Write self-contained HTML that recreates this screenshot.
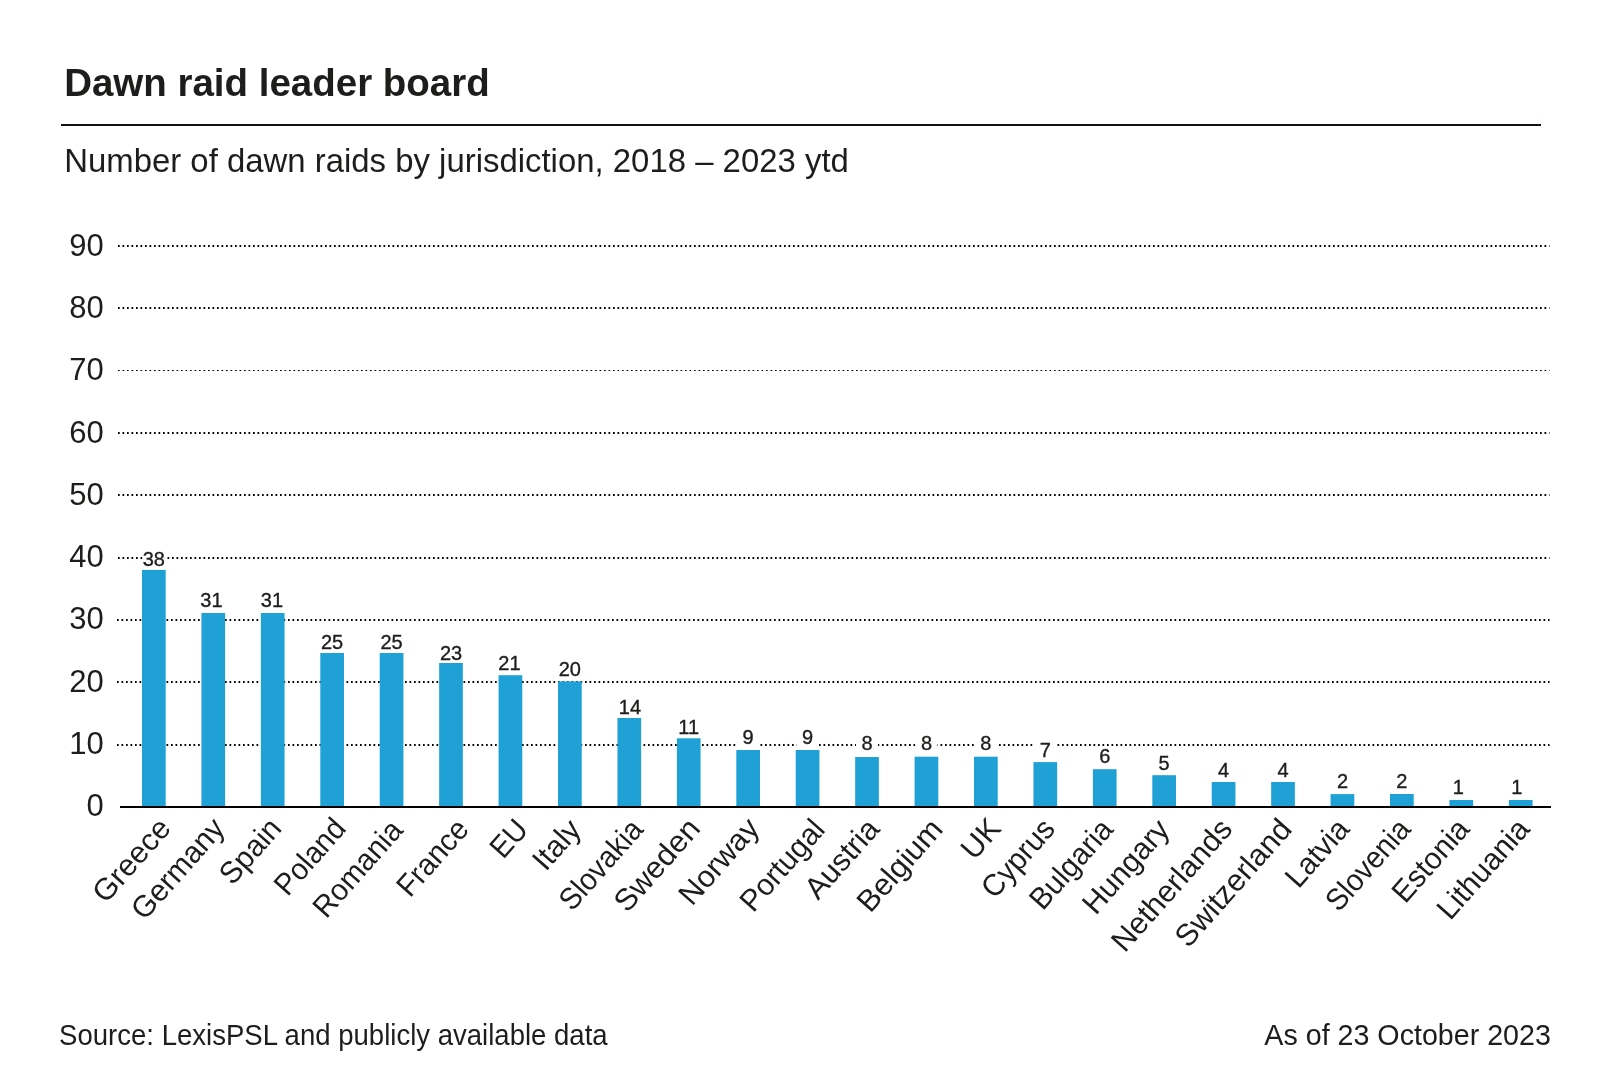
<!DOCTYPE html><html><head><meta charset="utf-8"><style>html,body{margin:0;padding:0;background:#fff;width:1600px;height:1081px;overflow:hidden}svg{display:block;will-change:transform}text{font-family:"Liberation Sans",sans-serif;fill:#1d1d1b}</style></head><body>
<svg width="1600" height="1081" viewBox="0 0 1600 1081">
<rect width="1600" height="1081" fill="#fff"/>
<text x="64.16" y="96" font-size="39.6" font-weight="bold" textLength="425.6" lengthAdjust="spacingAndGlyphs">Dawn raid leader board</text>
<rect x="61" y="124" width="1480" height="2" fill="#15110d"/>
<text x="64.17" y="172" font-size="33.6" textLength="784.7" lengthAdjust="spacingAndGlyphs">Number of dawn raids by jurisdiction, 2018 – 2023 ytd</text>
<line x1="117" y1="745.0" x2="1549.5" y2="745.0" stroke="#000" stroke-width="2" stroke-dasharray="1.7 2.8"/>
<line x1="117" y1="682.0" x2="1549.5" y2="682.0" stroke="#000" stroke-width="2" stroke-dasharray="1.7 2.8"/>
<line x1="117" y1="620.0" x2="1549.5" y2="620.0" stroke="#000" stroke-width="2" stroke-dasharray="1.7 2.8"/>
<line x1="118" y1="558.0" x2="1549.5" y2="558.0" stroke="#000" stroke-width="2" stroke-dasharray="1.7 2.8"/>
<line x1="118" y1="495.0" x2="1549.5" y2="495.0" stroke="#000" stroke-width="2" stroke-dasharray="1.7 2.8"/>
<line x1="118" y1="433.0" x2="1549.5" y2="433.0" stroke="#000" stroke-width="2" stroke-dasharray="1.7 2.8"/>
<line x1="118" y1="370.5" x2="1549.5" y2="370.5" stroke="#000" stroke-width="1" stroke-dasharray="1.7 2.8"/>
<line x1="118" y1="308.0" x2="1549.5" y2="308.0" stroke="#000" stroke-width="2" stroke-dasharray="1.7 2.8"/>
<line x1="118" y1="246.0" x2="1549.5" y2="246.0" stroke="#000" stroke-width="2" stroke-dasharray="1.7 2.8"/>
<text x="103.7" y="816.07" font-size="31" text-anchor="end">0</text>
<text x="103.7" y="753.84" font-size="31" text-anchor="end">10</text>
<text x="103.7" y="691.61" font-size="31" text-anchor="end">20</text>
<text x="103.7" y="629.38" font-size="31" text-anchor="end">30</text>
<text x="103.7" y="567.15" font-size="31" text-anchor="end">40</text>
<text x="103.7" y="504.92" font-size="31" text-anchor="end">50</text>
<text x="103.7" y="442.69" font-size="31" text-anchor="end">60</text>
<text x="103.7" y="380.46" font-size="31" text-anchor="end">70</text>
<text x="103.7" y="318.23" font-size="31" text-anchor="end">80</text>
<text x="103.7" y="256.00" font-size="31" text-anchor="end">90</text>
<rect x="142.00" y="569.90" width="23.70" height="237.10" fill="#1fa1d6"/>
<text transform="translate(172.35 829.20) rotate(-48.5)" x="0" y="0" font-size="30.5" text-anchor="end" textLength="100.55" lengthAdjust="spacingAndGlyphs">Greece</text>
<rect x="201.43" y="613.00" width="23.70" height="194.00" fill="#1fa1d6"/>
<text transform="translate(226.28 829.30) rotate(-48.5)" x="0" y="0" font-size="30.5" text-anchor="end" textLength="123.27" lengthAdjust="spacingAndGlyphs">Germany</text>
<rect x="260.86" y="613.00" width="23.70" height="194.00" fill="#1fa1d6"/>
<text transform="translate(283.01 829.40) rotate(-48.5)" x="0" y="0" font-size="30.5" text-anchor="end" textLength="76.07" lengthAdjust="spacingAndGlyphs">Spain</text>
<rect x="320.29" y="653.00" width="23.70" height="154.00" fill="#1fa1d6"/>
<text transform="translate(347.54 829.50) rotate(-48.5)" x="0" y="0" font-size="30.5" text-anchor="end" textLength="90.53" lengthAdjust="spacingAndGlyphs">Poland</text>
<rect x="379.72" y="653.00" width="23.70" height="154.00" fill="#1fa1d6"/>
<text transform="translate(404.22 831.25) rotate(-48.5)" x="0" y="0" font-size="30.5" text-anchor="end" textLength="117.73" lengthAdjust="spacingAndGlyphs">Romania</text>
<rect x="439.15" y="663.00" width="23.70" height="144.00" fill="#1fa1d6"/>
<text transform="translate(470.25 830.25) rotate(-48.5)" x="0" y="0" font-size="30.5" text-anchor="end" textLength="91.12" lengthAdjust="spacingAndGlyphs">France</text>
<rect x="498.58" y="675.20" width="23.70" height="131.80" fill="#1fa1d6"/>
<text transform="translate(529.53 830.50) rotate(-48.5)" x="0" y="0" font-size="30.5" text-anchor="end" textLength="39.50" lengthAdjust="spacingAndGlyphs">EU</text>
<rect x="558.01" y="681.40" width="23.70" height="125.60" fill="#1fa1d6"/>
<text transform="translate(582.46 830.70) rotate(-48.5)" x="0" y="0" font-size="30.5" text-anchor="end" textLength="55.48" lengthAdjust="spacingAndGlyphs">Italy</text>
<rect x="617.44" y="718.00" width="23.70" height="89.00" fill="#1fa1d6"/>
<text transform="translate(644.59 830.40) rotate(-48.5)" x="0" y="0" font-size="30.5" text-anchor="end" textLength="109.17" lengthAdjust="spacingAndGlyphs">Slovakia</text>
<rect x="676.87" y="738.30" width="23.70" height="68.70" fill="#1fa1d6"/>
<text transform="translate(701.67 829.65) rotate(-48.5)" x="0" y="0" font-size="30.5" text-anchor="end" textLength="112.44" lengthAdjust="spacingAndGlyphs">Sweden</text>
<rect x="736.30" y="750.00" width="23.70" height="57.00" fill="#1fa1d6"/>
<text transform="translate(760.82 829.18) rotate(-48.5)" x="0" y="0" font-size="30.5" text-anchor="end" textLength="103.91" lengthAdjust="spacingAndGlyphs">Norway</text>
<rect x="795.73" y="750.00" width="23.70" height="57.00" fill="#1fa1d6"/>
<text transform="translate(826.48 830.50) rotate(-48.5)" x="0" y="0" font-size="30.5" text-anchor="end" textLength="110.66" lengthAdjust="spacingAndGlyphs">Portugal</text>
<rect x="855.16" y="757.00" width="23.70" height="50.00" fill="#1fa1d6"/>
<text transform="translate(881.01 830.00) rotate(-48.5)" x="0" y="0" font-size="30.5" text-anchor="end" textLength="94.94" lengthAdjust="spacingAndGlyphs">Austria</text>
<rect x="914.59" y="756.70" width="23.70" height="50.30" fill="#1fa1d6"/>
<text transform="translate(944.29 830.25) rotate(-48.5)" x="0" y="0" font-size="30.5" text-anchor="end" textLength="111.82" lengthAdjust="spacingAndGlyphs">Belgium</text>
<rect x="974.02" y="756.70" width="23.70" height="50.30" fill="#1fa1d6"/>
<text transform="translate(1002.52 829.35) rotate(-48.5)" x="0" y="0" font-size="30.5" text-anchor="end" textLength="42.56" lengthAdjust="spacingAndGlyphs">UK</text>
<rect x="1033.45" y="762.10" width="23.70" height="44.90" fill="#1fa1d6"/>
<text transform="translate(1056.55 829.95) rotate(-48.5)" x="0" y="0" font-size="30.5" text-anchor="end" textLength="93.54" lengthAdjust="spacingAndGlyphs">Cyprus</text>
<rect x="1092.88" y="769.20" width="23.70" height="37.80" fill="#1fa1d6"/>
<text transform="translate(1114.63 830.40) rotate(-48.5)" x="0" y="0" font-size="30.5" text-anchor="end" textLength="108.42" lengthAdjust="spacingAndGlyphs">Bulgaria</text>
<rect x="1152.31" y="775.20" width="23.70" height="31.80" fill="#1fa1d6"/>
<text transform="translate(1171.11 830.75) rotate(-48.5)" x="0" y="0" font-size="30.5" text-anchor="end" textLength="113.91" lengthAdjust="spacingAndGlyphs">Hungary</text>
<rect x="1211.74" y="782.00" width="23.70" height="25.00" fill="#1fa1d6"/>
<text transform="translate(1233.89 830.10) rotate(-48.5)" x="0" y="0" font-size="30.5" text-anchor="end" textLength="164.76" lengthAdjust="spacingAndGlyphs">Netherlands</text>
<rect x="1271.17" y="782.00" width="23.70" height="25.00" fill="#1fa1d6"/>
<text transform="translate(1293.27 830.25) rotate(-48.5)" x="0" y="0" font-size="30.5" text-anchor="end" textLength="158.68" lengthAdjust="spacingAndGlyphs">Switzerland</text>
<rect x="1330.60" y="794.10" width="23.70" height="12.90" fill="#1fa1d6"/>
<text transform="translate(1350.90 830.05) rotate(-48.5)" x="0" y="0" font-size="30.5" text-anchor="end" textLength="79.22" lengthAdjust="spacingAndGlyphs">Latvia</text>
<rect x="1390.03" y="794.00" width="23.70" height="13.00" fill="#1fa1d6"/>
<text transform="translate(1412.08 830.10) rotate(-48.5)" x="0" y="0" font-size="30.5" text-anchor="end" textLength="110.79" lengthAdjust="spacingAndGlyphs">Slovenia</text>
<rect x="1449.46" y="800.00" width="23.70" height="7.00" fill="#1fa1d6"/>
<text transform="translate(1471.01 830.00) rotate(-48.5)" x="0" y="0" font-size="30.5" text-anchor="end" textLength="99.41" lengthAdjust="spacingAndGlyphs">Estonia</text>
<rect x="1508.89" y="800.00" width="23.70" height="7.00" fill="#1fa1d6"/>
<text transform="translate(1531.04 830.00) rotate(-48.5)" x="0" y="0" font-size="30.5" text-anchor="end" textLength="121.93" lengthAdjust="spacingAndGlyphs">Lithuania</text>
<rect x="142.85" y="549.60" width="22" height="19.50" fill="#fff"/>
<text x="153.85" y="565.60" font-size="20" text-anchor="middle" stroke="#1d1d1b" stroke-width="0.35">38</text>
<rect x="200.48" y="590.70" width="22" height="19.50" fill="#fff"/>
<text x="211.48" y="606.70" font-size="20" text-anchor="middle" stroke="#1d1d1b" stroke-width="0.35">31</text>
<rect x="260.91" y="590.70" width="22" height="19.50" fill="#fff"/>
<text x="271.91" y="606.70" font-size="20" text-anchor="middle" stroke="#1d1d1b" stroke-width="0.35">31</text>
<rect x="321.14" y="632.70" width="22" height="19.50" fill="#fff"/>
<text x="332.14" y="648.70" font-size="20" text-anchor="middle" stroke="#1d1d1b" stroke-width="0.35">25</text>
<rect x="380.57" y="632.70" width="22" height="19.50" fill="#fff"/>
<text x="391.57" y="648.70" font-size="20" text-anchor="middle" stroke="#1d1d1b" stroke-width="0.35">25</text>
<rect x="440.00" y="644.20" width="22" height="18.80" fill="#fff"/>
<text x="451.00" y="660.20" font-size="20" text-anchor="middle" stroke="#1d1d1b" stroke-width="0.35">23</text>
<rect x="498.43" y="654.00" width="22" height="19.50" fill="#fff"/>
<text x="509.43" y="670.00" font-size="20" text-anchor="middle" stroke="#1d1d1b" stroke-width="0.35">21</text>
<rect x="558.86" y="659.60" width="22" height="19.50" fill="#fff"/>
<text x="569.86" y="675.60" font-size="20" text-anchor="middle" stroke="#1d1d1b" stroke-width="0.35">20</text>
<rect x="618.99" y="697.50" width="22" height="19.50" fill="#fff"/>
<text x="629.99" y="713.50" font-size="20" text-anchor="middle" stroke="#1d1d1b" stroke-width="0.35">14</text>
<rect x="677.72" y="717.60" width="22" height="19.50" fill="#fff"/>
<text x="688.72" y="733.60" font-size="20" text-anchor="middle" stroke="#1d1d1b" stroke-width="0.35">11</text>
<rect x="737.15" y="728.10" width="22" height="19.50" fill="#fff"/>
<text x="748.15" y="744.10" font-size="20" text-anchor="middle" stroke="#1d1d1b" stroke-width="0.35">9</text>
<rect x="796.58" y="728.10" width="22" height="19.50" fill="#fff"/>
<text x="807.58" y="744.10" font-size="20" text-anchor="middle" stroke="#1d1d1b" stroke-width="0.35">9</text>
<rect x="856.01" y="734.40" width="22" height="19.50" fill="#fff"/>
<text x="867.01" y="750.40" font-size="20" text-anchor="middle" stroke="#1d1d1b" stroke-width="0.35">8</text>
<rect x="915.44" y="734.40" width="22" height="19.50" fill="#fff"/>
<text x="926.44" y="750.40" font-size="20" text-anchor="middle" stroke="#1d1d1b" stroke-width="0.35">8</text>
<rect x="974.87" y="734.40" width="22" height="19.50" fill="#fff"/>
<text x="985.87" y="750.40" font-size="20" text-anchor="middle" stroke="#1d1d1b" stroke-width="0.35">8</text>
<rect x="1034.30" y="740.80" width="22" height="19.50" fill="#fff"/>
<text x="1045.30" y="756.80" font-size="20" text-anchor="middle" stroke="#1d1d1b" stroke-width="0.35">7</text>
<rect x="1093.73" y="746.50" width="22" height="19.50" fill="#fff"/>
<text x="1104.73" y="762.50" font-size="20" text-anchor="middle" stroke="#1d1d1b" stroke-width="0.35">6</text>
<rect x="1153.16" y="754.30" width="22" height="19.50" fill="#fff"/>
<text x="1164.16" y="770.30" font-size="20" text-anchor="middle" stroke="#1d1d1b" stroke-width="0.35">5</text>
<rect x="1212.59" y="761.10" width="22" height="19.50" fill="#fff"/>
<text x="1223.59" y="777.10" font-size="20" text-anchor="middle" stroke="#1d1d1b" stroke-width="0.35">4</text>
<rect x="1272.02" y="761.10" width="22" height="19.50" fill="#fff"/>
<text x="1283.02" y="777.10" font-size="20" text-anchor="middle" stroke="#1d1d1b" stroke-width="0.35">4</text>
<rect x="1331.45" y="772.20" width="22" height="19.50" fill="#fff"/>
<text x="1342.45" y="788.20" font-size="20" text-anchor="middle" stroke="#1d1d1b" stroke-width="0.35">2</text>
<rect x="1390.88" y="772.20" width="22" height="19.50" fill="#fff"/>
<text x="1401.88" y="788.20" font-size="20" text-anchor="middle" stroke="#1d1d1b" stroke-width="0.35">2</text>
<rect x="1447.21" y="777.75" width="22" height="19.50" fill="#fff"/>
<text x="1458.21" y="793.75" font-size="20" text-anchor="middle" stroke="#1d1d1b" stroke-width="0.35">1</text>
<rect x="1505.84" y="777.75" width="22" height="19.50" fill="#fff"/>
<text x="1516.84" y="793.75" font-size="20" text-anchor="middle" stroke="#1d1d1b" stroke-width="0.35">1</text>
<rect x="120" y="806" width="1431" height="2" fill="#000"/>
<text x="59.1" y="1045" font-size="29" textLength="548.55" lengthAdjust="spacingAndGlyphs">Source: LexisPSL and publicly available data</text>
<text x="1550.9" y="1045" font-size="29" text-anchor="end" textLength="286.56" lengthAdjust="spacingAndGlyphs">As of 23 October 2023</text>
</svg></body></html>
